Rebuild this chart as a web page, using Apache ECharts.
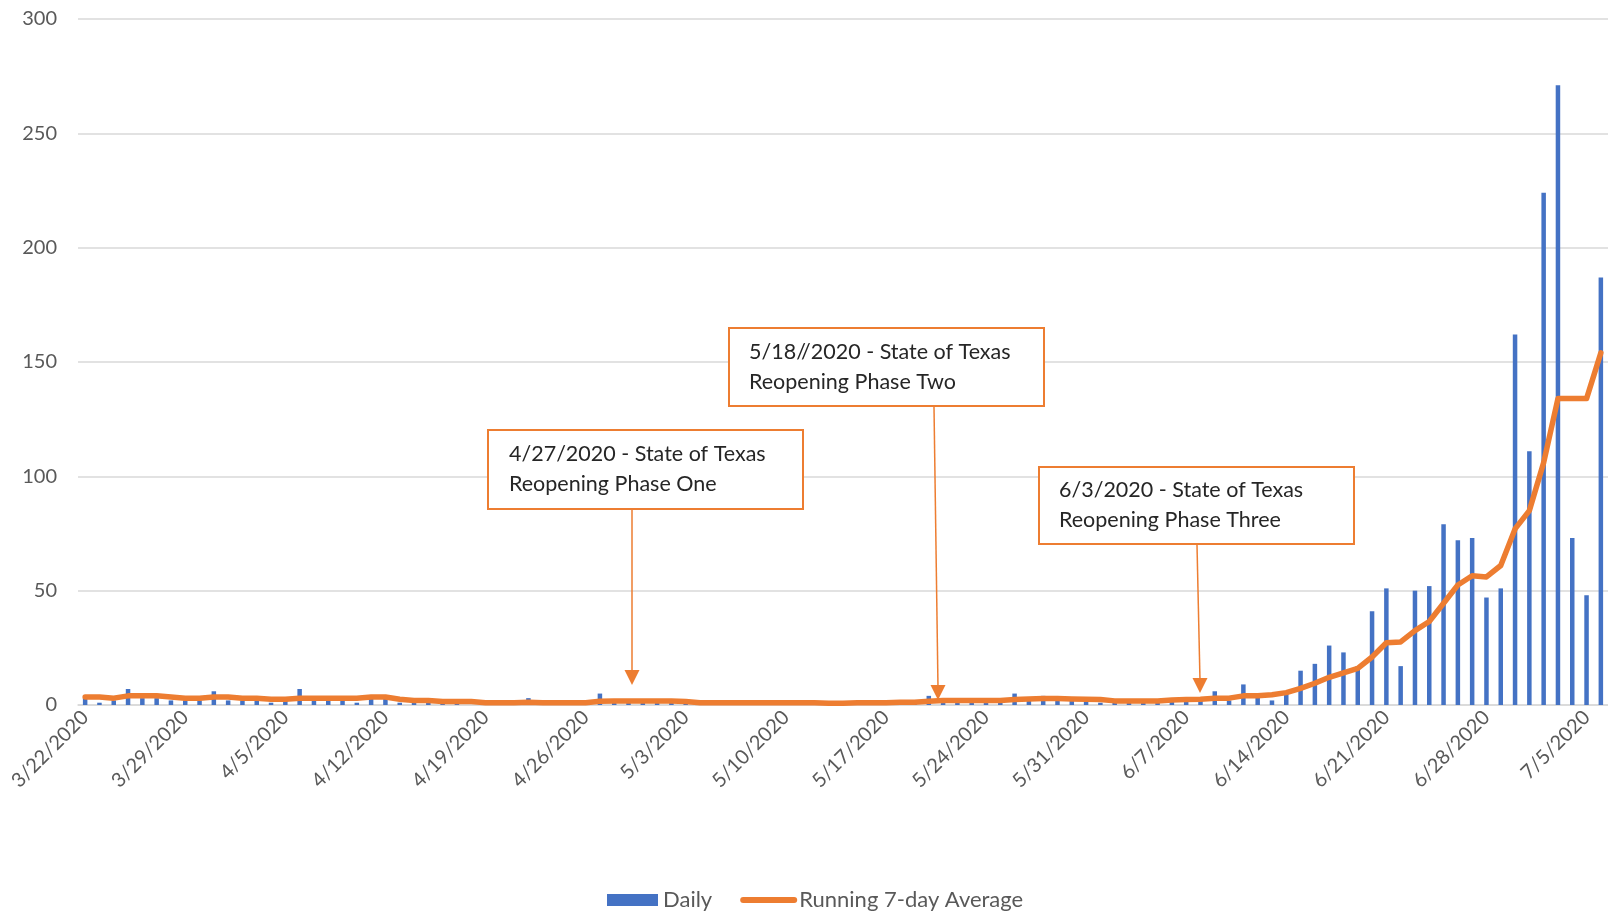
<!DOCTYPE html>
<html>
<head>
<meta charset="utf-8">
<script src="https://cdn.jsdelivr.net/npm/echarts@6/dist/echarts.min.js"></script>
<style>
html,body{margin:0;padding:0;background:#fff;}
#c{width:1608px;height:911px;}
</style>
</head>
<body>
<div id="c"></div>
<script>
const categories = [
 '3/22/2020','3/23/2020','3/24/2020','3/25/2020','3/26/2020','3/27/2020','3/28/2020','3/29/2020','3/30/2020','3/31/2020',
 '4/1/2020','4/2/2020','4/3/2020','4/4/2020','4/5/2020','4/6/2020','4/7/2020','4/8/2020','4/9/2020','4/10/2020',
 '4/11/2020','4/12/2020','4/13/2020','4/14/2020','4/15/2020','4/16/2020','4/17/2020','4/18/2020','4/19/2020','4/20/2020',
 '4/21/2020','4/22/2020','4/23/2020','4/24/2020','4/25/2020','4/26/2020','4/27/2020','4/28/2020','4/29/2020','4/30/2020',
 '5/1/2020','5/2/2020','5/3/2020','5/4/2020','5/5/2020','5/6/2020','5/7/2020','5/8/2020','5/9/2020','5/10/2020',
 '5/11/2020','5/12/2020','5/13/2020','5/14/2020','5/15/2020','5/16/2020','5/17/2020','5/18/2020','5/19/2020','5/20/2020',
 '5/21/2020','5/22/2020','5/23/2020','5/24/2020','5/25/2020','5/26/2020','5/27/2020','5/28/2020','5/29/2020','5/30/2020',
 '5/31/2020','6/1/2020','6/2/2020','6/3/2020','6/4/2020','6/5/2020','6/6/2020','6/7/2020','6/8/2020','6/9/2020',
 '6/10/2020','6/11/2020','6/12/2020','6/13/2020','6/14/2020','6/15/2020','6/16/2020','6/17/2020','6/18/2020','6/19/2020',
 '6/20/2020','6/21/2020','6/22/2020','6/23/2020','6/24/2020','6/25/2020','6/26/2020','6/27/2020','6/28/2020','6/29/2020',
 '6/30/2020','7/1/2020','7/2/2020','7/3/2020','7/4/2020','7/5/2020','7/6/2020'
];

const dailyValues = [
 3,1,2,7,3,3,2, 2,2,6,2,2,2,1, 2,7,2,2,2,1,3, 3,1,1,1,
 1,1,0,1,1,1,3,1,0,1,1,
 5,
 1,1,1,1,1,1,1, 1,1,0,1,1,1,1, 1,0,1,1,1,1,1, 1,
 4,3,
 1,2,1,1,
 5,2,4,
 2,2,2,1,1,2,2,2,3,2,2,
 6,2,9,4,2,5,
 15,18,26,23,17,41,51,17,50,52,79,72,73,47,51,162,111,224,271,73,48,187
];

const averageValues = [
 3.5,3.5,3,4,4,4,3.5,3,3,3.5,
 3.5,3,3,2.5,2.5,3,3,3,3,3,
 3.5,3.5,2.5,2,2,1.5,1.5,1.5,1,1,
 1,1.2,1,1,1,1,1.6,1.8,1.8,1.8,
 1.8,1.7,1.5,1,1,1,1,1,1,1,
 1,1,0.8,0.8,1,1,1,1.2,1.2,1.6,
 2,2,2,2,2,2.4,2.6,2.8,2.8,2.6,
 2.5,2.4,1.8,1.7,1.7,1.8,2.2,2.4,2.5,3,
 3,4,4,4.5,5.4,7.3,9.5,12.1,14.1,16,
 21,27.2,27.6,32.5,36.5,44.5,52.5,56.5,56,61,
 77,85,106,134,134,134,154
];

const yTicks = [0, 50, 100, 150, 200, 250, 300];
const seriesNames = ['Daily', 'Running 7-day Average'];
const annotationTexts = [
 '4/27/2020 - State of Texas\nReopening Phase One',
 '5/18//2020 - State of Texas\nReopening Phase Two',
 '6/3/2020 - State of Texas\nReopening Phase Three'
];

const FONT = 'Lato, "Open Sans", "Liberation Sans", sans-serif';
const ORANGE = '#ED7D31';
const BLUE = '#4472C4';

function annotation(idx, box, textPos, arrowFrom, arrowTo) {
  return [
    { type: 'rect', shape: { x: box[0], y: box[1], width: box[2], height: box[3] },
      style: { fill: '#fff', stroke: ORANGE, lineWidth: 2 }, z: 100 },
    { type: 'text', x: textPos[0], y: textPos[1], z: 101,
      style: { text: annotationTexts[idx], fill: '#262626', font: '21.5px ' + FONT, lineHeight: 30, textVerticalAlign: 'top' } },
    { type: 'line', shape: { x1: arrowFrom[0], y1: arrowFrom[1], x2: arrowTo[0], y2: arrowTo[1] - 12 },
      style: { stroke: ORANGE, lineWidth: 1.5 }, z: 100 },
    { type: 'polygon', shape: { points: [[arrowTo[0] - 7.5, arrowTo[1] - 15], [arrowTo[0] + 7.5, arrowTo[1] - 15], [arrowTo[0], arrowTo[1]]] },
      style: { fill: ORANGE }, z: 100 }
  ];
}

const chart = echarts.init(document.getElementById('c'), null, { renderer: 'canvas' });
chart.setOption({
  animation: false,
  backgroundColor: '#fff',
  textStyle: { fontFamily: FONT },
  grid: { left: 78, right: 0, top: 19, bottom: 206, containLabel: false, outerBoundsMode: 'none' },
  legend: {
    left: 602, top: 884,
    itemWidth: 51, itemHeight: 12, itemGap: 28,
    textStyle: { fontSize: 22, color: '#595959', fontFamily: FONT },
    data: [
      { name: seriesNames[0], icon: 'rect' },
      { name: seriesNames[1], itemStyle: { opacity: 0 }, lineStyle: { width: 6, cap: 'round', color: ORANGE } }
    ]
  },
  xAxis: {
    type: 'category',
    data: categories,
    boundaryGap: true,
    axisLine: { lineStyle: { color: '#D9D9D9', width: 1.5 } },
    axisTick: { interval: 6, length: 7, lineStyle: { color: '#D9D9D9', width: 1.5 } },
    axisLabel: { interval: 6, rotate: 45, margin: 9, fontSize: 20, color: '#595959', fontFamily: FONT }
  },
  yAxis: {
    type: 'value',
    min: yTicks[0], max: yTicks[yTicks.length - 1], interval: yTicks[1] - yTicks[0],
    axisLine: { show: false }, axisTick: { show: false },
    axisLabel: { margin: 21, fontSize: 20, color: '#595959', fontFamily: FONT },
    splitLine: { lineStyle: { color: '#D9D9D9', width: 1.5 } }
  },
  series: [
    { name: seriesNames[0], type: 'bar', data: dailyValues, barWidth: 4.5,
      itemStyle: { color: BLUE } },
    { name: seriesNames[1], type: 'line', data: averageValues, symbol: 'none', showSymbol: false,
      lineStyle: { color: ORANGE, width: 5.5, cap: 'round', join: 'round' },
      itemStyle: { color: ORANGE } }
  ],
  graphic: [].concat(
    annotation(0, [488, 430, 315, 79], [509, 439], [632, 510], [632, 685]),
    annotation(1, [729, 328, 315, 78], [749, 337], [934, 407], [938, 700]),
    annotation(2, [1039, 467, 315, 77], [1059, 475], [1197, 545], [1200, 693])
  )
});
</script>
</body>
</html>
